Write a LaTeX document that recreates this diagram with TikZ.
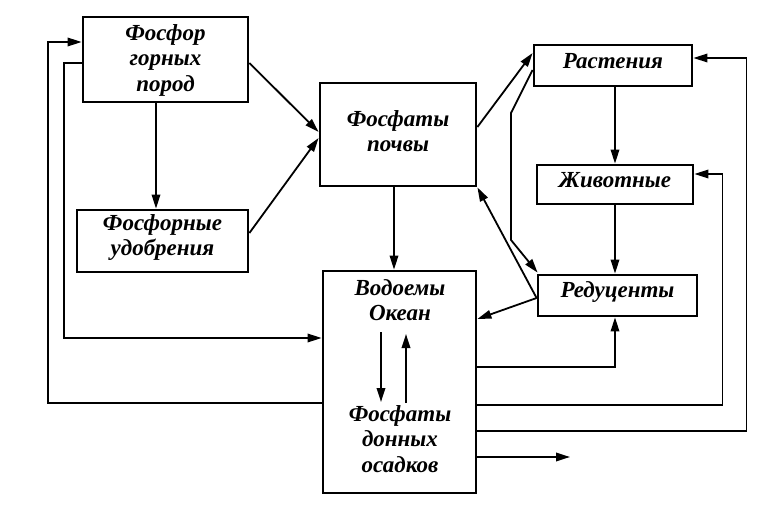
\documentclass[tikz,border=0pt]{standalone}
\usepackage{fontspec}
\setmainfont{Liberation Serif}
\usetikzlibrary{arrows.meta}
\begin{document}
\begin{tikzpicture}[x=1pt,y=-1pt,
  box/.style={draw,line width=2.8pt,inner sep=0pt,align=center,
    font=\fontsize{23}{25.5}\selectfont\bfseries\itshape},
  lbl/.style={inner sep=0pt,align=center,
    font=\fontsize{23}{25.5}\selectfont\bfseries\itshape},
  arr/.style={line width=1.8pt,-{Triangle[length=14pt,width=8.5pt]}}]
\useasboundingbox (0,0) rectangle (764,516);
% boxes
\node[box,minimum width=165pt,minimum height=85pt,text depth=3pt] (rocks) at (165.5,59.5) {Фосфор\\горных\\пород};
\node[box,minimum width=171pt,minimum height=62pt,text depth=12pt] (fert) at (162.5,241) {Фосфорные\\удобрения};
\node[box,minimum width=156pt,minimum height=103pt,text depth=7pt] (soil) at (398,134.5) {Фосфаты\\почвы};
\node[box,minimum width=158pt,minimum height=41pt,text depth=10pt] (plants) at (613,65.5) {Растения};
\node[box,minimum width=156pt,minimum height=39pt,text depth=9pt] (animals) at (615,184.5) {Животные};
\node[box,minimum width=159pt,minimum height=41pt,text depth=11pt] (red) at (617.5,295.5) {Редуценты};
\node[draw,line width=2.8pt,minimum width=153pt,minimum height=222pt] (water) at (399.5,382) {};
\node[lbl] (ocean) at (400,300) {Водоемы\\Океан};
\node[lbl] (sed) at (400,439) {Фосфаты\\донных\\осадков};
\coordinate (out) at (570,457);
% connectors
\draw[arr] (rocks.south -| 156,0) -- (fert.north -| 156,0);
\draw[arr] ([yshift=-3.5pt]rocks.east) -- ([yshift=2.5pt]soil.west);
\draw[arr] ([yshift=8pt]fert.east) -- ([yshift=-3.5pt]soil.west);
\draw[arr] ([xshift=-4pt]soil.south) -- ([xshift=-4pt]soil.south |- water.north);
\draw[arr] ([yshift=7.5pt]soil.east) -- ([yshift=12.5pt]plants.west);
\draw[arr] (animals.north |- plants.south) -- (animals.north);
\draw[arr] (animals.south) -- (animals.south |- red.north);
\draw[arr] ([yshift=-4.5pt]plants.west) -- (511,113) -- (511,240) -- ([xshift=1pt,yshift=1pt]red.north west);
\draw[arr] ([yshift=-2.5pt]red.west) -- (soil.south east);
\draw[arr] ([yshift=-2.5pt]red.west) -- ([yshift=63pt]water.east);
\draw[arr] ([yshift=15pt]water.east) -| ([xshift=-2.5pt]red.south);
\draw[arr] ([yshift=-23pt]water.east) -- ++(245pt,0) |- ([yshift=10.5pt]animals.east);
\draw[arr] ([yshift=-49pt]water.east) -- ++(269pt,0) |- ([yshift=7.5pt]plants.east);
\draw[arr] ([yshift=-75pt]water.east) -- (out);
\draw[arr] ([yshift=-21pt]water.west) -- ++(-274pt,0) |- ([yshift=17.5pt]rocks.west);
\draw[arr] ([yshift=-3.5pt]rocks.west) -- ++(-18pt,0) |- ([yshift=44pt]water.west);
\draw[arr] (381,332) -- (381,402);
\draw[arr] (406,403) -- (406,334);
\end{tikzpicture}
\end{document}
